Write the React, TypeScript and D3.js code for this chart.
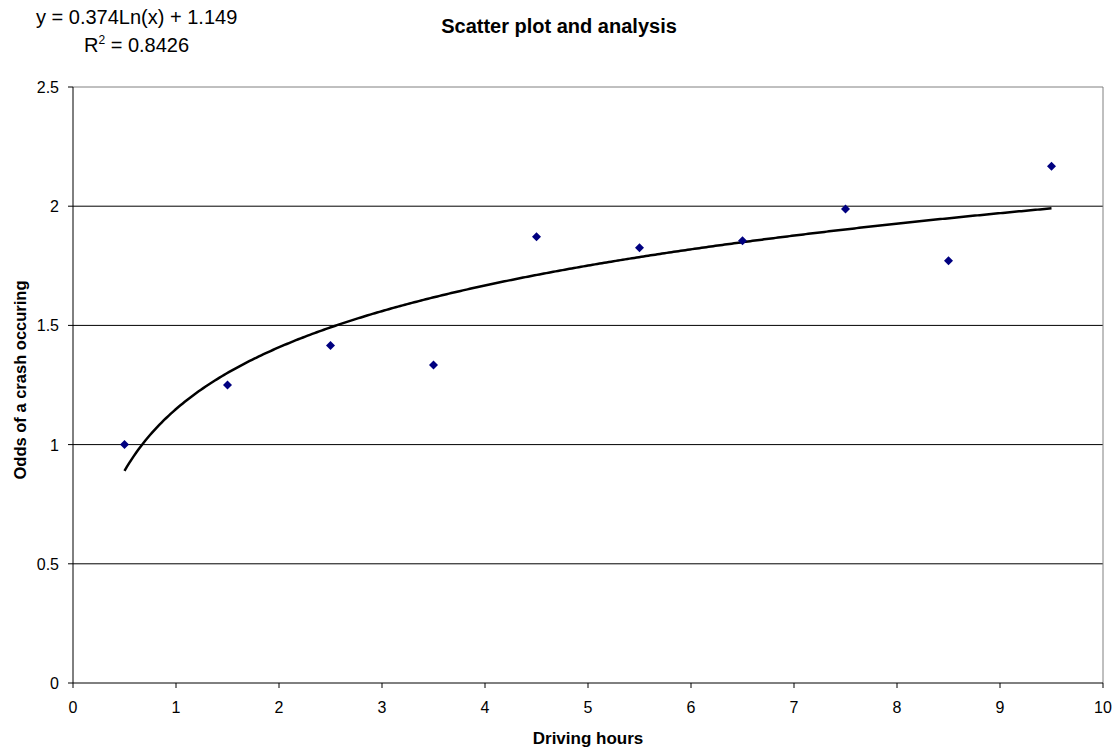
import React from "react";
import * as d3 from "d3";

const xs = [0.5, 1.5, 2.5, 3.5, 4.5, 5.5, 6.5, 7.5, 8.5, 9.5];
const ys = [1.0, 1.25, 1.416, 1.334, 1.872, 1.826, 1.855, 1.988, 1.771, 2.168];
const xTicks = [0, 1, 2, 3, 4, 5, 6, 7, 8, 9, 10];
const yTicks = [0, 0.5, 1, 1.5, 2, 2.5];
const coefA = 0.374;
const coefB = 1.149;

export default function App() {
  const W = 1117, H = 748;
  const L = 73, R = 1103, T = 87, B = 683;
  const x = d3.scaleLinear().domain([0, 10]).range([L, R]);
  const y = d3.scaleLinear().domain([0, 2.5]).range([B, T]);
  const font = "'Liberation Sans', Arial, sans-serif";
  const trend = d3.range(0, 401).map((i) => 0.5 + (9 * i) / 400);
  const line = d3
    .line<number>()
    .x((d) => x(d))
    .y((d) => y(coefA * Math.log(d) + coefB));
  return (
    <svg width={W} height={H} style={{ position: "absolute", left: 0, top: 0 }} fontFamily={font}>
      <rect width={W} height={H} fill="#fff" />
      {yTicks.map((t) => (
        <g key={t}>
          {t > 0 && t < 2.5 && <line x1={L} x2={R} y1={y(t)} y2={y(t)} stroke="#000" strokeWidth={1} />}
          <line x1={L - 5} x2={L} y1={y(t)} y2={y(t)} stroke="#000" />
          <text x={L - 14} y={y(t) + 6} textAnchor="end" fontSize={16}>{t}</text>
        </g>
      ))}
      <line x1={L} x2={R} y1={T} y2={T} stroke="#808080" />
      <line x1={R} x2={R} y1={T} y2={B} stroke="#808080" />
      <line x1={L} x2={L} y1={T} y2={B} stroke="#000" />
      <line x1={L} x2={R} y1={B} y2={B} stroke="#000" />
      {xTicks.map((t) => (
        <g key={t}>
          <line x1={x(t)} x2={x(t)} y1={B} y2={B + 5} stroke="#000" />
          <text x={x(t)} y={B + 30} textAnchor="middle" fontSize={16}>{t}</text>
        </g>
      ))}
      <path d={line(trend) || ""} fill="none" stroke="#000" strokeWidth={2.5} />
      {xs.map((v, i) => {
        const cx = x(v), cy = y(ys[i]);
        return (
          <path key={i} d={`M${cx},${cy - 4.5}L${cx + 4.5},${cy}L${cx},${cy + 4.5}L${cx - 4.5},${cy}Z`} fill="#000080" />
        );
      })}
      <text x={559} y={33} textAnchor="middle" fontSize={20} fontWeight="bold">Scatter plot and analysis</text>
      <text x={588} y={744} textAnchor="middle" fontSize={17} fontWeight="bold">Driving hours</text>
      <text transform={`translate(26,380) rotate(-90)`} textAnchor="middle" fontSize={16.5} fontWeight="bold">Odds of a crash occuring</text>
      <text x={36} y={24} fontSize={20}>y = 0.374Ln(x) + 1.149</text>
      <text x={84} y={52} fontSize={20}>
        R<tspan dy={-8} fontSize={12}>2</tspan><tspan dy={8}> = 0.8426</tspan>
      </text>
    </svg>
  );
}
